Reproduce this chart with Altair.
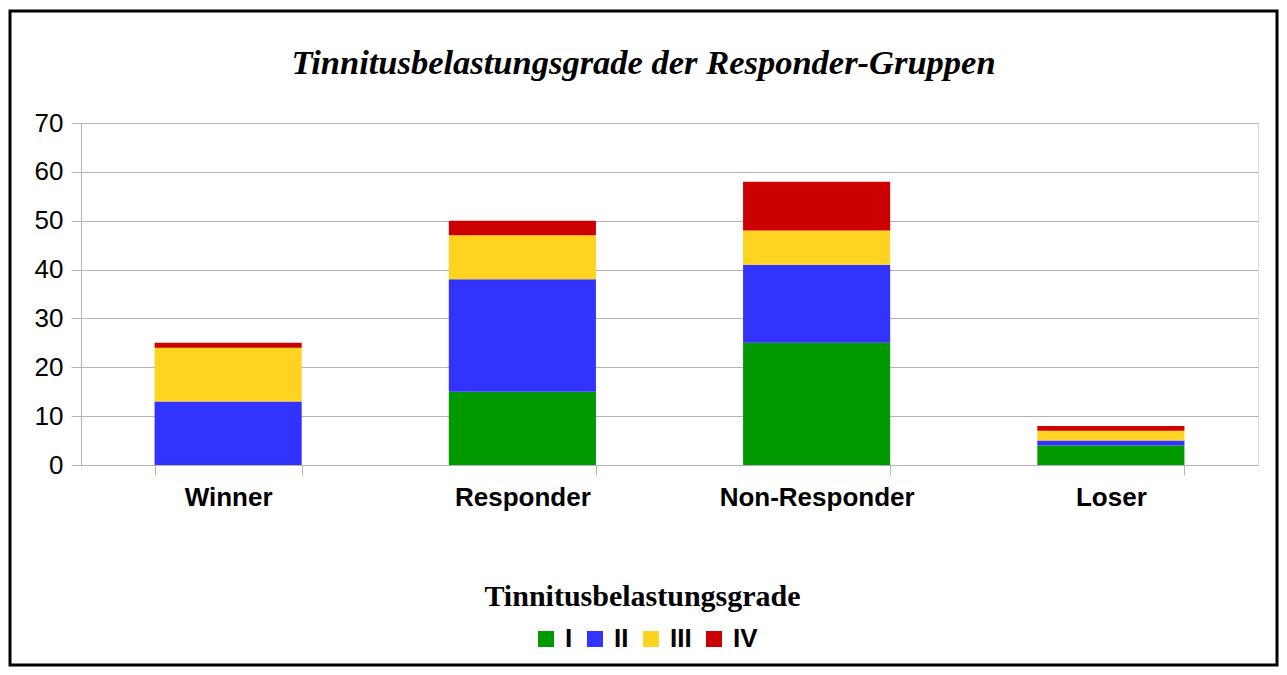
import altair as alt
import pandas as pd

groups = ["Winner", "Responder", "Non-Responder", "Loser"]
grades = ["I", "II", "III", "IV"]
colors = ["#009900", "#3333FF", "#FFD320", "#CC0000"]

grade_I = [0, 15, 25, 4]
grade_II = [13, 23, 16, 1]
grade_III = [11, 9, 7, 2]
grade_IV = [1, 3, 10, 1]

rows = []
for gi, (g, vals) in enumerate(zip(grades, [grade_I, grade_II, grade_III, grade_IV])):
    for grp, v in zip(groups, vals):
        rows.append({"Gruppe": grp, "Grad": g, "order": gi, "Anzahl": v})
df = pd.DataFrame(rows)

W, H = 1177, 342
PAD_L, PAD_T, PAD_R, PAD_B = 73, 115, 21, 202

bars = alt.Chart(df).mark_bar(stroke=None).encode(
    x=alt.X("Gruppe:N", sort=groups,
            scale=alt.Scale(paddingInner=0.5, paddingOuter=0.25),
            axis=alt.Axis(title="Tinnitusbelastungsgrade", labelAngle=0,
                          labelFont="Liberation Sans", labelFontWeight="bold",
                          labelFontSize=26, labelColor="#000000", labelPadding=9,
                          labelLimit=0,
                          tickBand="extent", tickSize=10, tickColor="#b3b3b3",
                          domainColor="#b3b3b3", domainWidth=1,
                          titleFont="Liberation Serif", titleFontWeight="bold",
                          titleFontSize=30, titleColor="#000000",
                          titleX=561, titleY=140, titleAnchor="middle",
                          titleBaseline="alphabetic")),
    y=alt.Y("Anzahl:Q", stack="zero",
            scale=alt.Scale(domain=[0, 70]),
            axis=alt.Axis(title=None, values=list(range(0, 80, 10)),
                          labelFont="Liberation Sans", labelFontSize=26,
                          labelColor="#000000", labelPadding=8,
                          tickSize=10, tickColor="#b3b3b3",
                          domainColor="#b3b3b3", gridColor="#b3b3b3",
                          gridWidth=1)),
    color=alt.Color("Grad:N", sort=grades,
                    scale=alt.Scale(domain=grades, range=colors),
                    legend=alt.Legend(title=None, orient="none", direction="horizontal",
                                      legendX=452, legendY=503,
                                      symbolType="square", symbolSize=256,
                                      symbolStrokeWidth=0, symbolOpacity=1,
                                      labelFont="Liberation Sans", labelFontWeight="bold",
                                      labelFontSize=26, labelColor="#000000",
                                      labelOffset=6, columnPadding=9)),
    order=alt.Order("order:Q", sort="ascending"),
)

frame = alt.Chart(pd.DataFrame({"f": [0]})).mark_rect(
    filled=False, stroke="#000000", strokeWidth=3, clip=False
).encode(
    x=alt.value(-PAD_L + 2), x2=alt.value(W + PAD_R - 2),
    y=alt.value(-PAD_T + 3), y2=alt.value(H + PAD_B - 2),
)

chart = alt.layer(bars, frame).properties(
    width=W, height=H,
    padding={"left": PAD_L, "top": PAD_T, "right": PAD_R, "bottom": PAD_B},
    autosize=alt.AutoSizeParams(type="none"),
    title=alt.TitleParams("Tinnitusbelastungsgrade der Responder-Gruppen",
                          font="Liberation Serif", fontSize=34.5, fontStyle="italic",
                          fontWeight="bold", color="#000000", anchor="middle",
                          frame="bounds", offset=-72),
).configure_view(stroke="#b3b3b3", strokeWidth=1).configure(background="#ffffff")

chart.save("out.html", embed_options={"renderer": "svg", "actions": False})
